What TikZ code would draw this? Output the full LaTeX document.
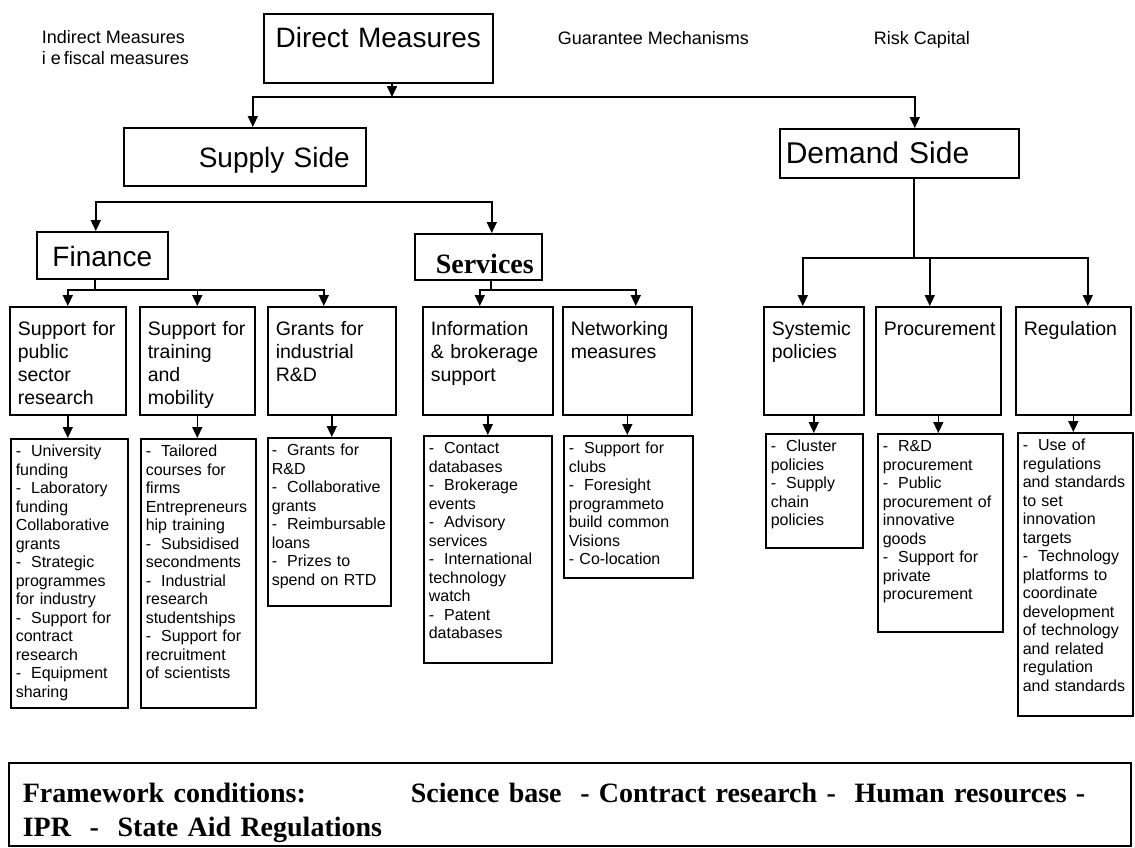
\documentclass[tikz,border=0pt]{standalone}
\usepackage{fontspec}
\newfontfamily\sansfnt{Liberation Sans}
\newfontfamily\seriffnt{Liberation Serif}
\usepackage{tikz}
\usetikzlibrary{arrows.meta}
\newcommand{\itm}{-\hspace{10pt}}
\hyphenpenalty=10000
\exhyphenpenalty=10000

\begin{document}
\begin{tikzpicture}[x=1pt, y=-1pt, >={Triangle[length=11pt,width=10pt]}, line width=1.6pt,
    every node/.style={draw, anchor=north west, align=left},
    head/.style={font=\sansfnt\fontsize{28}{32}\selectfont, inner xsep=8pt, inner ysep=4pt},
    upper/.style={font=\sansfnt\fontsize{19.5}{23}\selectfont, inner xsep=8pt, inner ysep=4pt, text height=25pt, text depth=75pt},
    lower/.style={font=\sansfnt\fontsize{16}{18.5}\selectfont, inner xsep=5pt, inner ysep=4pt, text height=14pt},
    note/.style={draw=none, inner sep=0pt, font=\sansfnt\fontsize{18}{21}\selectfont}]

    \useasboundingbox (0,0) rectangle (1135,847);

    % top row
    \node[note] (indirect) at (41,29.5) {Indirect Measures\\i e\,fiscal measures};
    \node[note] (guarantee) at (557,30.5) {Guarantee Mechanisms};
    \node[note] (riskcap) at (873,30.5) {Risk Capital};
    \node[head, align=center, text width=213pt, text height=30pt, text depth=31pt] (direct) at (263,13) {Direct Measures};

    % supply and demand
    \node[head, text width=226pt, text height=36pt, text depth=14pt] (supply) at (123,127) {\hspace*{67pt}Supply Side};
    \node[head, font=\sansfnt\fontsize{30}{34}\selectfont, inner xsep=6pt, text width=227pt, text height=31pt, text depth=10pt] (demand) at (779,128) {Demand Side};
    \node[head, align=center, text width=115pt, text height=31pt, text depth=8pt] (finance) at (36,231) {Finance};
    \node[head, font=\seriffnt\bfseries\fontsize{28}{32}\selectfont, text width=111pt, text height=36pt, text depth=2pt] (services) at (414,233) {\hspace*{13pt}Services};

    % instruments
    \node[upper, text width=100pt] (pubres) at (9,306) {Support for\\public\\sector\\research};
    \node[upper, text width=99pt] (training) at (139,306) {Support for\\training\\and\\mobility};
    \node[upper, text width=112pt] (grants) at (267,306) {Grants for\\industrial\\R\&D};
    \node[upper, text width=114pt] (info) at (422,306) {Information\\\& brokerage\\support};
    \node[upper, text width=113pt] (network) at (562,306) {Networking\\measures};
    \node[upper, text width=84pt] (systemic) at (763,306) {Systemic\\policies};
    \node[upper, text width=109pt] (procure) at (875,306) {Procurement};
    \node[upper, text width=99pt] (regul) at (1015,306) {Regulation};

    % examples
    \node[lower, text width=107pt, text depth=247pt] (univ) at (10,438) {\itm University\\funding\\\itm Laboratory\\funding\\Collaborative\\grants\\\itm Strategic\\programmes\\for industry\\\itm Support for\\contract\\research\\\itm Equipment\\sharing};
    \node[lower, text width=105pt, text depth=247pt] (trainsub) at (140,438) {\itm Tailored\\courses for\\firms\\Entrepreneurs\\hip training\\\itm Subsidised\\secondments\\\itm Industrial\\research\\studentships\\\itm Support for\\recruitment\\of scientists};
    \node[lower, inner xsep=4pt, text width=115pt, text depth=146pt] (grantsub) at (267,437) {\itm Grants for\\R\&D\\\itm Collaborative\\grants\\\itm Reimbursable\\loans\\\itm Prizes to\\spend on RTD};
    \node[lower, text width=118pt, text depth=205pt] (infosub) at (423,435) {\itm Contact\\databases\\\itm Brokerage\\events\\\itm Advisory\\services\\\itm International\\technology\\watch\\\itm Patent\\databases};
    \node[lower, text width=119pt, text depth=120pt] (netsub) at (563,435) {\itm Support for\\clubs\\\itm Foresight\\programmeto\\build common\\Visions\\- Co-location};
    \node[lower, text width=87pt, text depth=92pt] (syssub) at (765,433) {\itm Cluster\\policies\\\itm Supply\\chain\\policies};
    \node[lower, text width=115pt, text depth=176pt] (procsub) at (877,433) {\itm R\&D\\procurement\\\itm Public\\procurement of\\innovative\\goods\\\itm Support for\\private\\procurement};
    \node[lower, text width=105pt, text depth=261pt] (regsub) at (1017,432) {\itm Use of\\regulations\\and standards\\to set\\innovation\\targets\\\itm Technology\\platforms to\\coordinate\\development\\of technology\\and related\\regulation\\and standards};

    % framework conditions
    \node[font=\seriffnt\bfseries\fontsize{28}{34}\selectfont, inner xsep=14pt, inner ysep=4pt, text width=1094pt, text height=36pt, text depth=39pt] (frame) at (8,762)
        {\makebox[388pt][l]{Framework conditions:}Science base\ \ - Contract research\ -\ \ Human resources\ -\\IPR\ \ -\ \ State Aid Regulations};

    % connectors
    \coordinate (dfork) at (392,97);
    \draw[->] (direct.south -| dfork) -- (dfork);
    \draw[->] (dfork) -| ([xshift=8pt]supply.north);
    \draw[->] (dfork) -| ([xshift=15.5pt]demand.north);

    \coordinate (sfork) at (244,202);
    \draw[->] (sfork) -| ([xshift=-6.5pt]finance.north);
    \draw[->] (sfork) -| ([xshift=13.5pt]services.north);

    \coordinate (ffork) at (95,290);
    \draw (finance.south -| ffork) -- (ffork);
    \draw[->] (ffork) -| (pubres.north);
    \draw[->] (ffork) -| (training.north);
    \draw[->] (ffork) -| ([xshift=-8pt]grants.north);

    \coordinate (vfork) at (491,290);
    \draw (services.south -| vfork) -- (vfork);
    \draw[->] (vfork) -| ([xshift=-8pt]info.north);
    \draw[->] (vfork) -| ([xshift=8.5pt]network.north);

    \coordinate (mfork) at (914,258);
    \draw (demand.south -| mfork) -- (mfork);
    \draw[->] (mfork) -| ([xshift=-11pt]systemic.north);
    \draw[->] (mfork) -| ([xshift=-8.5pt]procure.north);
    \draw[->] (mfork) -| ([xshift=14.5pt]regul.north);

    \foreach \a/\b in {pubres/univ, training/trainsub, grants/grantsub, info/infosub,
        network/netsub, systemic/syssub, procure/procsub, regul/regsub}
        \draw[->] (\a) -- (\a |- \b.north);
\end{tikzpicture}
\end{document}
